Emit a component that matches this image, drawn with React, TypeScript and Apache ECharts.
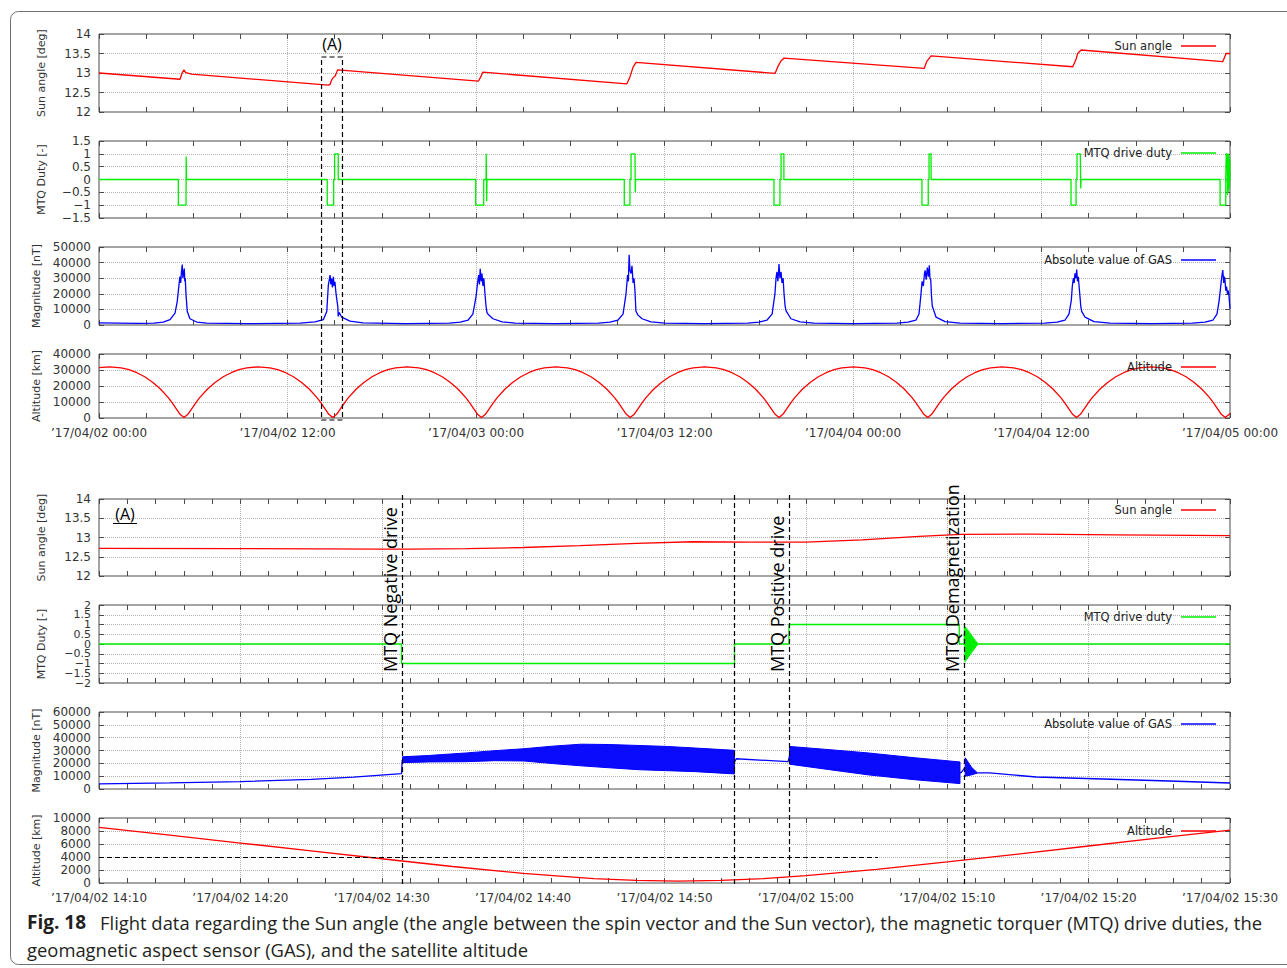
import React, { useEffect, useRef } from 'react';
import * as echarts from 'echarts';

// ---------- tick labels ----------
const topXLabels = ['’17/04/02 00:00', '’17/04/02 12:00', '’17/04/03 00:00', '’17/04/03 12:00', '’17/04/04 00:00', '’17/04/04 12:00', '’17/04/05 00:00'];
const lowerXLabels = ['’17/04/02 14:10', '’17/04/02 14:20', '’17/04/02 14:30', '’17/04/02 14:40', '’17/04/02 14:50', '’17/04/02 15:00', '’17/04/02 15:10', '’17/04/02 15:20', '’17/04/02 15:30'];
const mtqLowTicks = [-2, -1.5, -1, -0.5, 0, 0.5, 1, 1.5, 2];
const yNames = ['Sun angle [deg]', 'MTQ Duty [-]', 'Magnitude [nT]', 'Altitude [km]'];
const legendNames = ['Sun angle', 'MTQ drive duty', 'Absolute value of GAS', 'Altitude'];

// ---------- upper panel: hours since 17/04/02 00:00 ----------
const sunTop = [[0, 13.0], [5.16, 12.84], [5.3, 13.01], [5.41, 13.08], [5.52, 13.01], [5.9, 12.97], [14.6, 12.69], [14.71, 12.71], [14.81, 12.82], [14.92, 12.89], [15.02, 12.91], [15.19, 13.08], [24.15, 12.79], [24.3, 12.9], [24.43, 13.02], [33.6, 12.72], [33.8, 12.9], [34.0, 13.15], [34.19, 13.27], [43.04, 12.99], [43.2, 13.15], [43.4, 13.3], [43.6, 13.38], [52.54, 13.12], [52.7, 13.3], [52.97, 13.44], [61.99, 13.16], [62.2, 13.35], [62.3, 13.5], [62.52, 13.59], [71.54, 13.29], [71.7, 13.45], [71.75, 13.5], [72, 13.5]];

const mtqTop = [[0, 0], [5.05, 0], [5.05, -1], [5.54, -1], [5.55, 0.9], [5.57, 0], [14.53, 0], [14.53, -1], [14.94, -1], [14.94, 0], [15.0, 0], [15.0, 1], [15.23, 1], [15.23, 0], [23.98, 0], [23.98, -1], [24.49, -1], [24.49, 0], [24.64, 0], [24.65, 1], [24.68, -0.85], [24.7, 0], [33.44, 0], [33.44, -1], [33.8, -1], [33.8, 0], [33.87, 0], [33.87, 1], [34.12, 1], [34.14, -0.5], [34.16, 0], [42.97, 0], [42.97, -1], [43.35, -1], [43.35, 0], [43.42, 0], [43.42, 1], [43.6, 1], [43.6, 0], [52.39, 0], [52.39, -1], [52.79, -1], [52.79, 0], [52.84, 0], [52.84, 1], [52.97, 1], [52.97, 0], [61.88, 0], [61.88, -1], [62.2, -1], [62.2, 0], [62.26, 0], [62.26, 1], [62.47, 1], [62.5, -0.35], [62.52, 0], [71.37, 0], [71.37, -1], [71.73, -1], [71.73, 0], [71.76, 0], [71.76, 1], [71.82, 1], [71.84, -0.6], [71.86, 1], [71.88, -0.5], [71.9, 1], [71.92, -0.4], [71.94, 0.9], [71.96, -0.3], [71.98, 0.8], [72, 0]];

const gasTop = [
  [0, 1300], [2.5, 1000], [3.5, 1200], [4.09, 1900], [4.52, 3400], [4.84, 7600], [4.98, 15000], [5.09, 25600], [5.15, 31000], [5.2, 27000], [5.25, 34100], [5.3, 38800], [5.34, 30000], [5.37, 32000], [5.43, 36200], [5.46, 28000], [5.49, 30000], [5.54, 19300], [5.62, 8700], [5.79, 4000], [6.22, 1900], [6.86, 1200], [9.5, 900],
  [12.8, 1200], [13.75, 2000], [14.28, 3400], [14.5, 8700], [14.6, 25600], [14.66, 29000], [14.71, 32000], [14.76, 26000], [14.81, 29800], [14.86, 24000], [14.92, 30900], [14.97, 25000], [15.02, 27700], [15.08, 21000], [15.13, 17100], [15.2, 12000], [15.23, 5500], [15.3, 8000], [15.45, 5000], [15.98, 2500], [16.81, 1300], [19.5, 900],
  [22.3, 1200], [23.0, 1800], [23.5, 3200], [23.8, 7000], [24.0, 18000], [24.1, 27000], [24.17, 32000], [24.22, 26000], [24.27, 36000], [24.33, 28000], [24.38, 33000], [24.44, 25000], [24.5, 30000], [24.57, 20000], [24.64, 12000], [24.7, 8000], [24.8, 6500], [25.08, 4000], [25.66, 2000], [26.5, 1200], [29, 900],
  [31.8, 1200], [32.53, 1800], [33.04, 3200], [33.36, 7000], [33.55, 20000], [33.65, 32000], [33.7, 28000], [33.75, 45000], [33.8, 35000], [33.87, 33000], [33.93, 38000], [34.0, 27000], [34.06, 30000], [34.12, 22000], [34.18, 9000], [34.3, 6500], [34.57, 4000], [35.14, 2000], [36.03, 1200], [38.5, 900],
  [41.3, 1200], [42.02, 1800], [42.53, 3200], [42.85, 7000], [43.03, 20000], [43.1, 30000], [43.16, 34000], [43.22, 28000], [43.29, 39000], [43.35, 30000], [43.42, 34000], [43.48, 27000], [43.55, 30000], [43.61, 20000], [43.68, 12000], [43.74, 9000], [44.05, 4000], [44.63, 2000], [45.52, 1200], [48, 900],
  [50.8, 1200], [51.5, 1800], [52.01, 3200], [52.2, 7000], [52.31, 18000], [52.4, 28000], [52.48, 25000], [52.55, 33000], [52.59, 35000], [52.66, 29000], [52.73, 36800], [52.8, 31000], [52.86, 38300], [52.9, 30000], [52.95, 28800], [53.0, 18000], [53.05, 12000], [53.29, 5000], [53.86, 2200], [54.81, 1200], [57.5, 900],
  [60.2, 1200], [60.99, 1800], [61.5, 3200], [61.75, 7000], [61.9, 16000], [61.96, 24600], [62.03, 30000], [62.08, 27000], [62.13, 33100], [62.2, 30000], [62.24, 35600], [62.29, 28000], [62.34, 30900], [62.4, 24000], [62.45, 18200], [62.5, 12000], [62.56, 8700], [62.77, 5000], [63.34, 2200], [64.36, 1200], [67, 900],
  [69.6, 1200], [70.41, 1800], [70.92, 3200], [71.17, 7000], [71.3, 15000], [71.38, 22000], [71.43, 26700], [71.49, 32000], [71.54, 35200], [71.6, 27000], [71.64, 31000], [71.68, 28800], [71.73, 22000], [71.78, 24600], [71.84, 20000], [71.9, 22000], [71.94, 18200], [72, 10400],
];

const altTop = [
  [0, 31450], [0.675, 32000],
  [1.41, 31390], [1.91, 30170], [2.41, 28310], [2.91, 25760], [3.41, 22390], [3.91, 18120], [4.41, 12710], [4.66, 9490], [4.91, 5930], [5.16, 2310], [5.41, 300], [5.66, 2310], [5.91, 5930], [6.16, 9490], [6.41, 12710], [6.91, 18120], [7.41, 22390], [7.91, 25760], [8.41, 28310], [8.91, 30170], [9.41, 31390], [10.145, 32000],
  [10.88, 31390], [11.38, 30170], [11.88, 28310], [12.38, 25760], [12.88, 22390], [13.38, 18120], [13.88, 12710], [14.13, 9490], [14.38, 5930], [14.63, 2310], [14.88, 300], [15.13, 2310], [15.38, 5930], [15.63, 9490], [15.88, 12710], [16.38, 18120], [16.88, 22390], [17.38, 25760], [17.88, 28310], [18.38, 30170], [18.88, 31390], [19.615, 32000],
  [20.35, 31390], [20.85, 30170], [21.35, 28310], [21.85, 25760], [22.35, 22390], [22.85, 18120], [23.35, 12710], [23.6, 9490], [23.85, 5930], [24.1, 2310], [24.35, 300], [24.6, 2310], [24.85, 5930], [25.1, 9490], [25.35, 12710], [25.85, 18120], [26.35, 22390], [26.85, 25760], [27.35, 28310], [27.85, 30170], [28.35, 31390], [29.085, 32000],
  [29.82, 31390], [30.32, 30170], [30.82, 28310], [31.32, 25760], [31.82, 22390], [32.32, 18120], [32.82, 12710], [33.07, 9490], [33.32, 5930], [33.57, 2310], [33.82, 300], [34.07, 2310], [34.32, 5930], [34.57, 9490], [34.82, 12710], [35.32, 18120], [35.82, 22390], [36.32, 25760], [36.82, 28310], [37.32, 30170], [37.82, 31390], [38.555, 32000],
  [39.29, 31390], [39.79, 30170], [40.29, 28310], [40.79, 25760], [41.29, 22390], [41.79, 18120], [42.29, 12710], [42.54, 9490], [42.79, 5930], [43.04, 2310], [43.29, 300], [43.54, 2310], [43.79, 5930], [44.04, 9490], [44.29, 12710], [44.79, 18120], [45.29, 22390], [45.79, 25760], [46.29, 28310], [46.79, 30170], [47.29, 31390], [48.025, 32000],
  [48.76, 31390], [49.26, 30170], [49.76, 28310], [50.26, 25760], [50.76, 22390], [51.26, 18120], [51.76, 12710], [52.01, 9490], [52.26, 5930], [52.51, 2310], [52.76, 300], [53.01, 2310], [53.26, 5930], [53.51, 9490], [53.76, 12710], [54.26, 18120], [54.76, 22390], [55.26, 25760], [55.76, 28310], [56.26, 30170], [56.76, 31390], [57.495, 32000],
  [58.23, 31390], [58.73, 30170], [59.23, 28310], [59.73, 25760], [60.23, 22390], [60.73, 18120], [61.23, 12710], [61.48, 9490], [61.73, 5930], [61.98, 2310], [62.23, 300], [62.48, 2310], [62.73, 5930], [62.98, 9490], [63.23, 12710], [63.73, 18120], [64.23, 22390], [64.73, 25760], [65.23, 28310], [65.73, 30170], [66.23, 31390], [66.965, 32000],
  [67.7, 31390], [68.2, 30170], [68.7, 28310], [69.2, 25760], [69.7, 22390], [70.2, 18120], [70.7, 12710], [70.95, 9490], [71.2, 5930], [71.45, 2310], [71.7, 300], [71.95, 2310], [72, 2900],
];

// window (A) shown in the lower panel, hours
const zoomWindowHours = [14 + 10 / 60, 15.5];

// ---------- lower panel: minutes since 14:10 ----------
const sunLow = [[0, 12.72], [10, 12.71], [20, 12.7], [22, 12.7], [26, 12.71], [30, 12.74], [34, 12.79], [38, 12.85], [42, 12.89], [46, 12.88], [50, 12.88], [54, 12.94], [58, 13.03], [61, 13.08], [66, 13.09], [72, 13.07], [80, 13.05]];

const mtqLow = [[0, 0], [21.4, 0], [21.4, -1], [44.95, -1], [44.95, 0], [48.8, 0], [48.8, 1], [60.85, 1], [60.85, 0], [61.2, 0], [61.22, 0.95], [61.26, -0.93], [61.3, 0.89], [61.34, -0.85], [61.38, 0.81], [61.42, -0.77], [61.46, 0.73], [61.5, -0.69], [61.54, 0.65], [61.58, -0.61], [61.62, 0.57], [61.66, -0.53], [61.7, 0.49], [61.74, -0.45], [61.78, 0.41], [61.82, -0.37], [61.86, 0.33], [61.9, -0.29], [61.94, 0.25], [61.98, -0.21], [62.02, 0.17], [62.06, -0.13], [62.1, 0.09], [62.14, -0.05], [62.18, 0], [80, 0]];

// GAS outside the spin-modulated bands ('-' breaks the line where a band is drawn)
const gasLowLine = [[0, 4000], [5, 4700], [10, 5800], [15, 7500], [18, 9200], [21.4, 12000], [21.45, 22500], [21.5, '-'], [44.95, 21000], [45.08, 23590], [48.74, 21320], [48.85, 26000], [48.9, '-'], [60.9, 12600], [61.0, 13020], [61.27, 17000], [61.3, '-'], [62.13, 12520], [63, 12520], [66.3, 9350], [71, 7800], [75.7, 6230], [80, 4675]];

// spin-modulated GAS bands: [minute, lower envelope, upper envelope]
const gasBand1 = [[21.47, 20560, 25100], [23.3, 21070, 26100], [26.0, 21300, 28110], [28.0, 22070, 29870], [30.06, 21820, 31380], [32.1, 19810, 33400], [34.1, 18050, 34910], [36.1, 16540, 34660], [38.2, 15030, 33900], [40.2, 14280, 33150], [42.2, 13520, 31890], [44.95, 11760, 30130]];
const gasBand2 = [[48.85, 19310, 33150], [51.7, 15030, 30630], [54.4, 11010, 28110], [57.7, 7230, 24340], [60.9, 4210, 21070]];
const gasBand3 = [[61.27, 10000, 24340], [61.73, 11010, 16790], [62.13, 12400, 12600]];
const gasBands = [gasBand1, gasBand2, gasBand3];

const altLowMinutes = [0, 5, 10, 15, 20, 25, 30, 35, 38, 41, 44, 47, 50, 55, 60, 65, 70, 75, 80];
const altLowKm = [8570, 7375, 6150, 4950, 3730, 2540, 1480, 680, 400, 300, 400, 680, 1120, 2090, 3250, 4440, 5690, 6930, 8130];
const altThresholdKm = 4000;
const altThresholdEndMin = 55.1;

const eventMinutes = [21.4, 44.95, 48.8, 61.2];
const eventLabels = [
  { text: 'MTQ Negative drive', at: 21.4 },
  { text: 'MTQ Positive drive', at: 48.8 },
  { text: 'MTQ Demagnetization', at: 61.2 },
];

const captionBold = 'Fig. 18';
const captionLine1 = 'Flight data regarding the Sun angle (the angle between the spin vector and the Sun vector), the magnetic torquer (MTQ) drive duties, the';
const captionLine2 = 'geomagnetic aspect sensor (GAS), and the satellite altitude';

// ---------- styling ----------
const FONT = 'DejaVu Sans';
const INK = '#4a4a4a';
const RED = '#ff0000';
const GREEN = '#00ee00';
const BLUE = '#0000ff';

const gridSpec = [
  { top: 34, height: 78 }, { top: 141, height: 77 }, { top: 247, height: 78 }, { top: 354, height: 64 },
  { top: 499, height: 77 }, { top: 605, height: 78 }, { top: 712, height: 77 }, { top: 818, height: 65 },
];
const yRange = [[12, 14, 0.5], [-1.5, 1.5, 0.5], [0, 50000, 10000], [0, 40000, 10000], [12, 14, 0.5], [-2, 2, 0.5], [0, 60000, 10000], [0, 10000, 2000]];
const legendTops = [40, 147, 254, 361, 504, 611, 718, 825];

const minus = (v: number) => String(v).replace('-', '−');

function buildOption(): any {
  const grid = gridSpec.map((g) => ({ left: 99, width: 1131, top: g.top, height: g.height, show: true, borderColor: INK, borderWidth: 1, backgroundColor: 'transparent' }));
  const tick = { show: true, inside: true, length: 5, lineStyle: { color: INK, width: 1 } };
  const xAxis: any[] = [];
  const yAxis: any[] = [];
  gridSpec.forEach((_, i) => {
    const upper = i < 4;
    const labels = upper ? topXLabels : lowerXLabels;
    const base = {
      gridIndex: i, type: 'value', min: 0, max: upper ? 72 : 80, interval: upper ? 12 : 10,
      axisLine: { show: false, onZero: false }, axisTick: tick,
      minorTick: { show: true, splitNumber: upper ? 4 : 5, length: 5, lineStyle: { color: INK, width: 1 } },
    };
    xAxis.push({
      ...base, position: 'bottom',
      splitLine: { show: true, showMinLine: false, showMaxLine: false, lineStyle: { type: 'dotted', color: '#b4b4b4', width: 1 } },
      axisLabel: {
        show: i === 3 || i === 7, margin: 9, fontFamily: FONT, fontSize: 12, color: '#333',
        formatter: (v: number) => labels[Math.round(v / (upper ? 12 : 10))],
      },
    });
    xAxis.push({ ...base, position: 'top', splitLine: { show: false }, axisLabel: { show: false } });
    const [mn, mx, iv] = yRange[i];
    const ybase = { gridIndex: i, type: 'value', min: mn, max: mx, interval: iv, axisLine: { show: false, onZero: false }, axisTick: tick };
    yAxis.push({
      ...ybase, position: 'left',
      name: yNames[i % 4], nameLocation: 'middle', nameRotate: 90, nameGap: 52,
      nameTextStyle: { fontFamily: FONT, fontSize: 11, color: '#333' },
      splitLine: { show: true, showMinLine: false, showMaxLine: false, lineStyle: { type: 'dotted', color: '#b4b4b4', width: 1 } },
      axisLabel: {
        show: i !== 5, margin: 8, fontFamily: FONT, fontSize: 12, color: '#333', formatter: minus,
        showMinLabel: true, showMaxLabel: true,
      },
    });
    yAxis.push({ ...ybase, position: 'right', splitLine: { show: false }, axisLabel: { show: false } });
  });

  const line = (name: string, data: any[], g: number, color: string, extra: any = {}) => ({
    type: 'line', name, data, xAxisIndex: 2 * g, yAxisIndex: 2 * g, showSymbol: false, symbol: 'none',
    color, lineStyle: { color, width: 1.3 }, clip: true, animation: false, z: 3, connectNulls: false, ...extra,
  });

  const series: any[] = [
    line(legendNames[0], sunTop, 0, RED),
    line(legendNames[1], mtqTop, 1, GREEN),
    line(legendNames[2], gasTop, 2, BLUE),
    line(legendNames[3], altTop, 3, RED),
    line(legendNames[0], sunLow, 4, RED),
    line(legendNames[1], mtqLow, 5, GREEN),
    line(legendNames[2], gasLowLine, 6, BLUE),
    {
      type: 'custom', xAxisIndex: 12, yAxisIndex: 12, clip: true, silent: true, z: 3,
      data: gasBands.map((b) => [b[0][0], b[0][1]]),
      renderItem: (params: any, api: any) => {
        const band = gasBands[params.dataIndex];
        const top = band.map((p) => api.coord([p[0], p[2]]));
        const bot = band.slice().reverse().map((p) => api.coord([p[0], p[1]]));
        return { type: 'polygon', shape: { points: top.concat(bot) }, style: { fill: '#0a0afc', stroke: BLUE, lineWidth: 1 } };
      },
    },
    line(legendNames[3], altLowMinutes.map((m, k) => [m, altLowKm[k]]), 7, RED, {
      markLine: {
        silent: true, animation: false, symbol: ['none', 'none'], label: { show: false },
        lineStyle: { color: '#000', type: [5, 3], width: 1.2 },
        emphasis: { disabled: true },
        data: [[{ coord: [0, altThresholdKm] }, { coord: [altThresholdEndMin, altThresholdKm] }]],
      },
    }),
  ];

  const legend = legendTops.map((t, i) => ({
    data: [legendNames[i % 4]], right: 71, top: t, align: 'right', orient: 'horizontal',
    icon: 'rect', itemWidth: 35, itemHeight: 1.5, padding: 0, selectedMode: false,
    textStyle: { fontFamily: FONT, fontSize: 11.5, color: '#222', padding: [0, 4, 0, 0] },
  }));

  return { animation: false, backgroundColor: '#fff', grid, xAxis, yAxis, series, legend };
}

function txt(x: number, y: number, text: string, size: number, opts: any = {}) {
  return {
    type: 'text', x, y, silent: true, z: 50, rotation: opts.rotation || 0,
    style: {
      text, fontSize: size, fontFamily: opts.family || 'Open Sans', fontWeight: opts.weight || 'normal', fill: opts.color || '#000',
      align: opts.align || 'left', textAlign: opts.align || 'left', verticalAlign: 'middle', textVerticalAlign: 'middle',
    },
  };
}

function buildGraphic(chart: any): any[] {
  const px = (xAxisIndex: number, v: number) => chart.convertToPixel({ xAxisIndex }, v) as number;
  const py = (yAxisIndex: number, v: number) => chart.convertToPixel({ yAxisIndex }, v) as number;
  const bl = px(0, zoomWindowHours[0]);
  const br = px(0, zoomWindowHours[1]);
  const dash = { stroke: '#000', lineWidth: 1.2, lineDash: [5, 3], fill: 'none' };
  const els: any[] = [
    { type: 'rect', silent: true, z: 0, shape: { x: 10.5, y: 11.5, width: 1300, height: 953, r: 8 }, style: { fill: 'none', stroke: '#707070', lineWidth: 1 } },
    txt((bl + br) / 2, 44, '(A)', 16, { align: 'center' }),
    { type: 'rect', silent: true, z: 50, shape: { x: bl, y: 57, width: br - bl, height: 363 }, style: dash },
    txt(125, 514, '(A)', 16, { align: 'center' }),
    { type: 'line', silent: true, z: 50, shape: { x1: 113, y1: 523.5, x2: 137, y2: 523.5 }, style: { stroke: '#000', lineWidth: 1 } },
  ];
  // crowded tick labels of the lower MTQ axis (they overlap in the original too)
  mtqLowTicks.forEach((v) => {
    els.push(txt(91, py(10, v), minus(v), 11, { align: 'right', family: FONT, color: '#333' }));
  });
  eventMinutes.forEach((m) => {
    const x = Math.round(px(8, m)) + 0.5;
    els.push({ type: 'line', silent: true, z: 50, shape: { x1: x, y1: 495, x2: x, y2: 884 }, style: { ...dash } });
  });
  eventLabels.forEach((l) => {
    els.push(txt(px(8, l.at) - 12, 672, l.text, 18, { rotation: Math.PI / 2 }));
  });
  els.push(txt(27, 922, captionBold, 19, { weight: 'bold', color: '#231f20' }));
  els.push(txt(100, 922, captionLine1, 18.4, { color: '#231f20' }));
  els.push(txt(27, 949, captionLine2, 18.4, { color: '#231f20' }));
  return els;
}

export default function App() {
  const ref = useRef<HTMLDivElement>(null);
  useEffect(() => {
    const chart = echarts.init(ref.current as HTMLDivElement, undefined, { renderer: 'svg' });
    chart.setOption(buildOption());
    chart.setOption({ graphic: buildGraphic(chart) });
    return () => chart.dispose();
  }, []);
  return <div ref={ref} style={{ position: 'fixed', left: 0, top: 0, width: 1287, height: 968, background: '#fff' }} />;
}
